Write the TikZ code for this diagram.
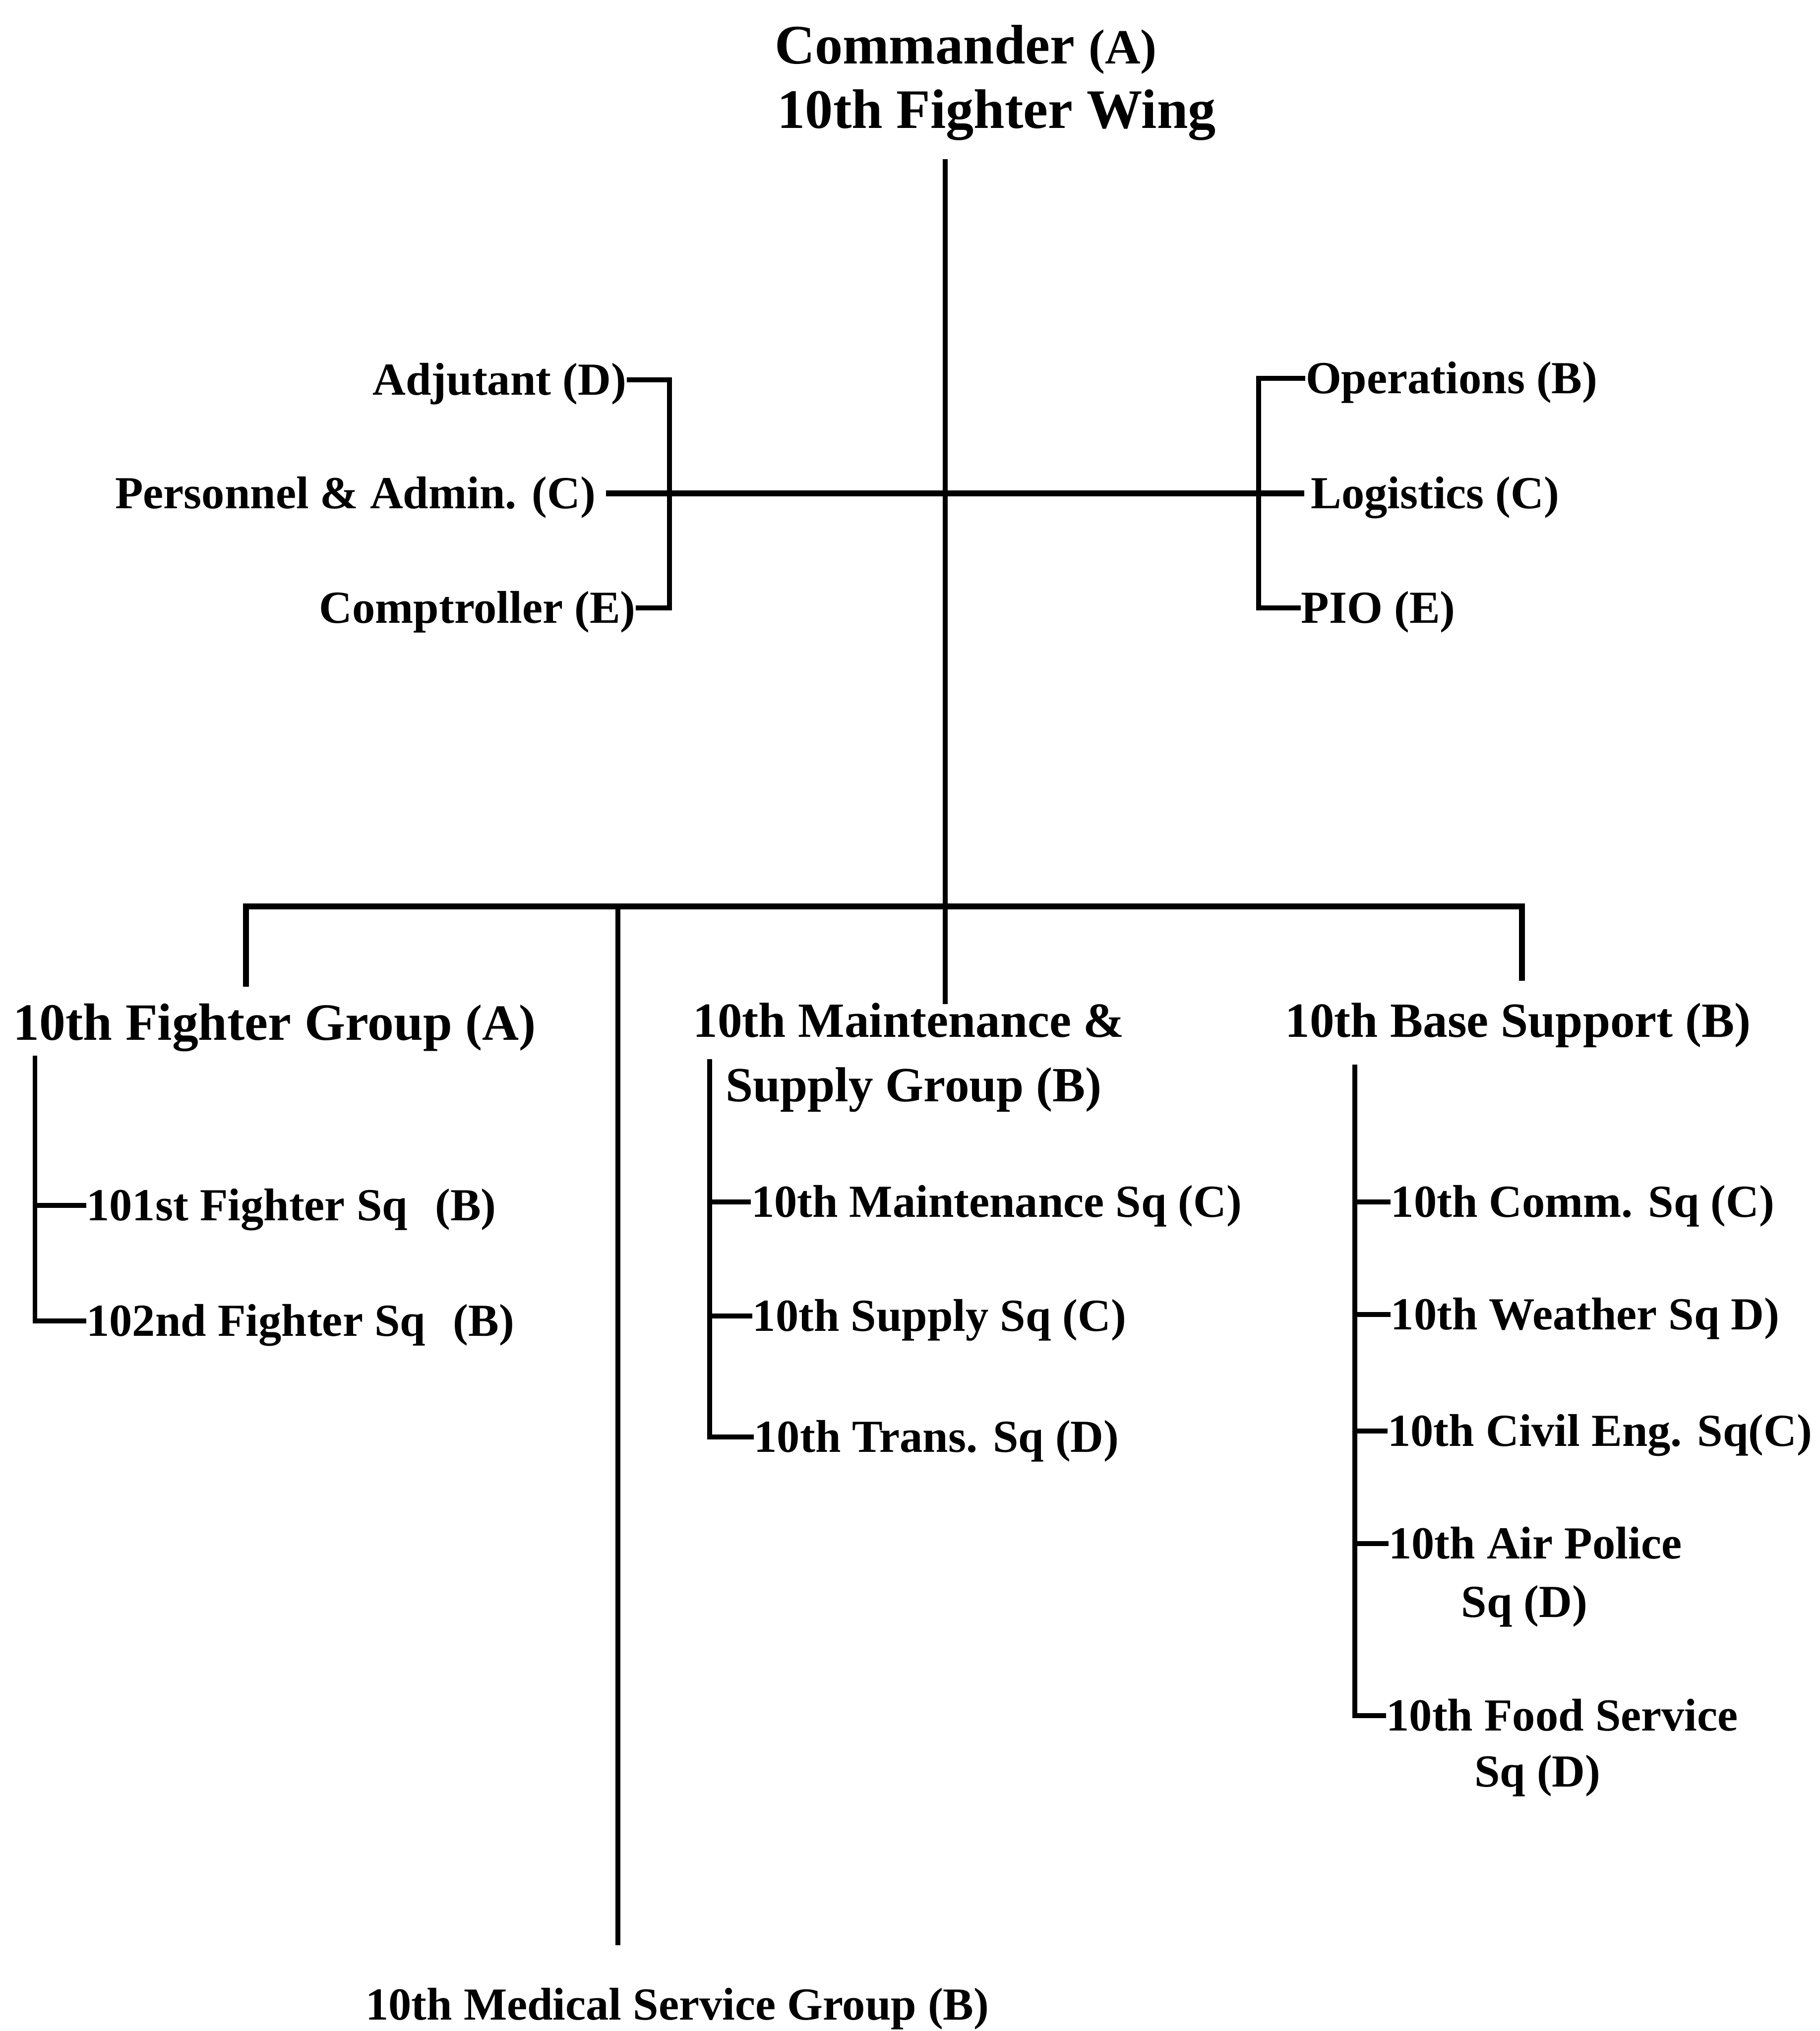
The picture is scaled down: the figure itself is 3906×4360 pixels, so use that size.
\documentclass[tikz,border=0pt]{standalone}
\usepackage{fontspec}
\setmainfont{Liberation Serif}
\begin{document}
\begin{tikzpicture}[x=0.01cm,y=-0.01cm,
  lbl/.style={inner sep=0pt, font=\fontsize{28}{30}\selectfont\bfseries, text height=19pt, text depth=0.5pt},
  grp/.style={inner sep=0pt, font=\fontsize{30}{32}\selectfont\bfseries, text height=20.3pt, text depth=0.5pt},
  big/.style={inner sep=0pt, font=\fontsize{32}{34}\selectfont\bfseries, text height=21.6pt, text depth=0.5pt},
  ttl/.style={inner sep=0pt, font=\fontsize{34}{36}\selectfont\bfseries, text height=22.9pt, text depth=0.5pt},
  ln/.style={line width=3pt},
  barln/.style={line width=3.8pt}]
\useasboundingbox (0,0) rectangle (3906,4360);

% title
\node[ttl, anchor=west] (cmd1) at (1662,97) {Commander {\fontsize{30}{32}\selectfont(A)}};
\node[ttl, anchor=west] (cmd2) at (1668,236) {10th Fighter Wing};

% staff
\node[lbl, anchor=east] (adj) at (1345,815) {Adjutant (D)};
\node[lbl, anchor=east] (pa) at (1279,1059) {Personnel \& Admin. (C)};
\node[lbl, anchor=east] (comp) at (1365,1305) {Comptroller (E)};
\node[lbl, anchor=west] (ops) at (2802,812) {Operations (B)};
\node[lbl, anchor=west] (log) at (2813,1059) {Logistics (C)};
\node[lbl, anchor=west] (pio) at (2792,1305) {PIO (E)};

% groups
\node[big, anchor=west] (fg) at (28,2196) {10th Fighter Group {\fontsize{31}{33}\selectfont(A)}};
\node[grp, anchor=west] (ms1) at (1487,2191) {10th Maintenance \&};
\node[grp, anchor=west] (ms2) at (1557,2330) {Supply Group (B)};
\node[grp, anchor=west] (bs) at (2758,2191) {10th Base Support (B)};
\node[lbl, anchor=west] (med) at (784,4303) {10th Medical Service Group (B)};

% fighter squadrons
\node[lbl, anchor=west] (s101) at (185,2588) {101st Fighter Sq\hspace{0.6em}(B)};
\node[lbl, anchor=west] (s102) at (185,2836) {102nd Fighter Sq\hspace{0.6em}(B)};

% maintenance squadrons
\node[lbl, anchor=west] (mq) at (1612,2580) {10th Maintenance Sq (C)};
\node[lbl, anchor=west] (sq) at (1615,2825) {10th Supply Sq (C)};
\node[lbl, anchor=west] (tq) at (1618,3085) {10th Trans. Sq (D)};

% base support squadrons
\node[lbl, anchor=west] (cq) at (2985,2580) {10th Comm. Sq (C)};
\node[lbl, anchor=west] (wq) at (2985,2822) {10th Weather Sq D)};
\node[lbl, anchor=west] (ce) at (2978,3072) {10th Civil Eng. Sq(C)};
\node[lbl, anchor=west] (ap1) at (2980,3314) {10th Air Police};
\node[lbl, anchor=west] (ap2) at (3136,3439) {Sq (D)};
\node[lbl, anchor=west] (fs1) at (2975,3683) {10th Food Service};
\node[lbl, anchor=west] (fs2) at (3164,3803) {Sq (D)};

% coordinates
\coordinate (tTop) at (2029,342);
\coordinate (tEnd) at (2029,2155);
\coordinate (lbT) at (1437,815);
\coordinate (rbT) at (2702,812);
\coordinate (fgTop) at (528,2118);
\coordinate (bL) at (528,1946);
\coordinate (bR) at (3267,1946);
\coordinate (bsTop) at (3267,2105);
\coordinate (medTop) at (1326,1946);
\coordinate (medBot) at (1326,4176);
\coordinate (fgV) at (75,2266);
\coordinate (msV) at (1523,2274);
\coordinate (bsV) at (2908,2285);

% connectors
\draw[ln] (tTop) -- (tEnd);
\draw[barln] ([xshift=0.22cm]pa.east) -- ([xshift=-0.13cm]log.west);
\draw[ln] (adj.east) -- (lbT) -- (lbT |- comp.east) -- (comp.east);
\draw[ln] (ops.west) -- (rbT) -- (rbT |- pio.west) -- (pio.west);
\draw[barln] (fgTop) -- (bL) -- (bR) -- (bsTop);
\draw[ln] (medTop) -- (medBot);

\draw[ln] (fgV) -- (fgV |- s102.west) -- (s102.west);
\draw[ln] (fgV |- s101.west) -- (s101.west);

\draw[ln] (msV) -- (msV |- tq.west) -- (tq.west);
\draw[ln] (msV |- mq.west) -- (mq.west);
\draw[ln] (msV |- sq.west) -- (sq.west);

\draw[ln] (bsV) -- (bsV |- fs1.west) -- (fs1.west);
\draw[ln] (bsV |- cq.west) -- (cq.west);
\draw[ln] (bsV |- wq.west) -- (wq.west);
\draw[ln] (bsV |- ce.west) -- (ce.west);
\draw[ln] (bsV |- ap1.west) -- (ap1.west);
\end{tikzpicture}
\end{document}
